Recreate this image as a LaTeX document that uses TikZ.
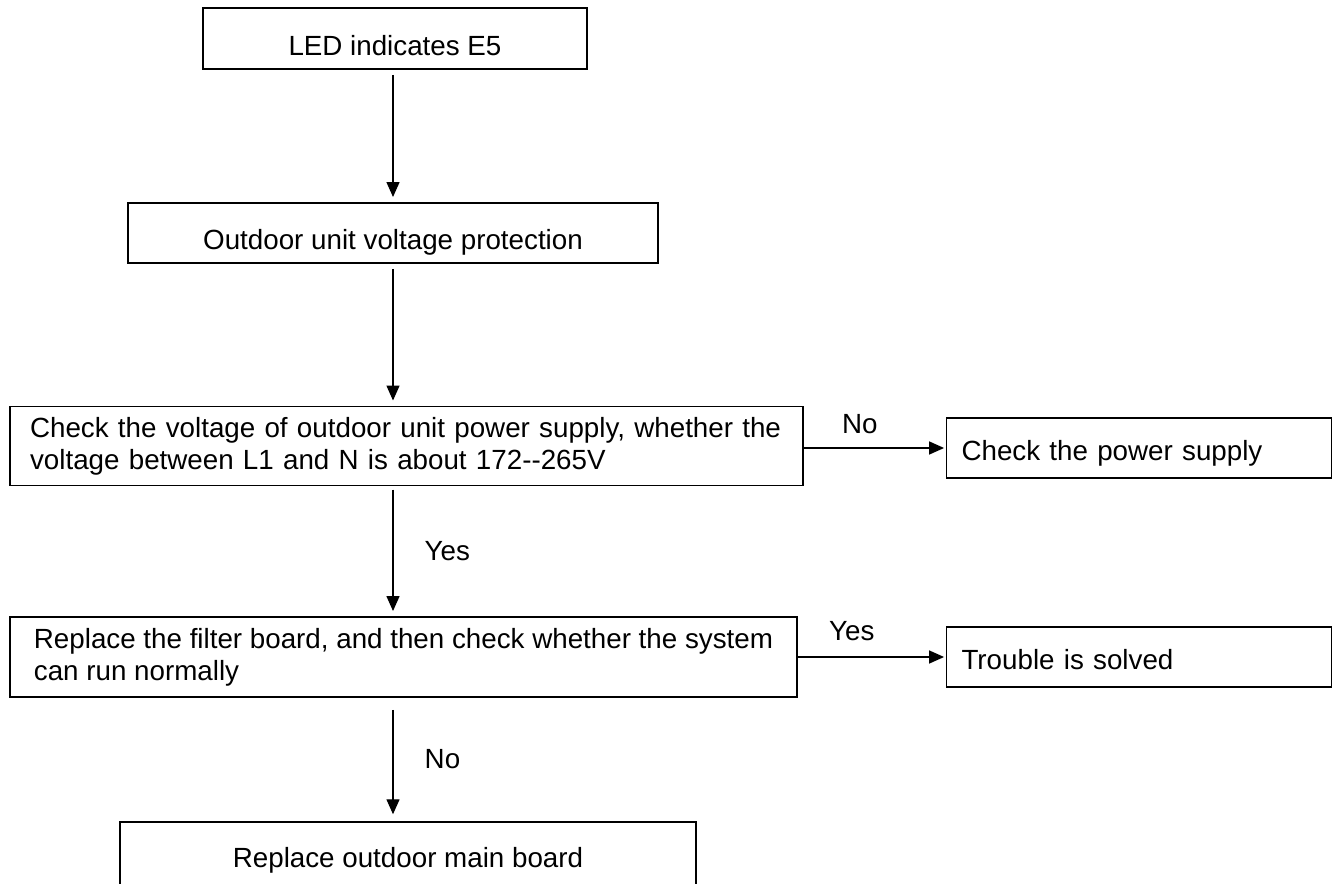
\documentclass[tikz,border=0pt]{standalone}
\usepackage{fontspec}
\setmainfont{Liberation Sans}
\usetikzlibrary{positioning,arrows.meta,calc}

\begin{document}
\begin{tikzpicture}[
    x=0.02cm, y=-0.02cm,
    >={Triangle[length=0.3cm,width=0.26cm]},
    every node/.style={font=\fontsize{15.8}{18.2}\selectfont},
    stepbox/.style={
        draw,
        line width=0.8pt,
        minimum height=#1,
        inner xsep=0.4cm,
        align=left,
    },
    oneline/.style={text height=#1,text depth=0pt},
    sidebox/.style={
        draw,
        line width=0.8pt,
        minimum height=1.2cm,
        text width=7.1cm,
        inner xsep=0.3cm,
        align=left,
        oneline=14.5pt,
    },
    flow/.style={->,line width=0.8pt},
    tag/.style={inner sep=2pt},
]

\useasboundingbox (0,0) rectangle (1334,884);

% === Main column ===
\node[stepbox=1.22cm,minimum width=7.68cm,oneline=19pt] (led) at (395,38.5) {LED indicates E5};
\node[stepbox=1.2cm,minimum width=10.6cm,oneline=19pt] (prot) at (393,233) {Outdoor unit voltage protection};
\node[stepbox=1.58cm,minimum width=15.86cm,text width=15.06cm] (volt) at (406.5,446)
    {Check the voltage of outdoor unit power supply, whether the\\
     voltage between L1 and N is about 172-{}-265V};
\node[stepbox=1.6cm,minimum width=15.74cm,inner xsep=0.32cm] (filter) at (403.5,657)
    {Replace the filter board, and then check whether the system\\
     can run normally};
\node[stepbox=1.4cm,minimum width=11.52cm,oneline=12.5pt] (mainb) at (408,857) {Replace outdoor main board};

% === Side boxes ===
\node[sidebox] (power) at (1139,448) {Check the power supply};
\node[sidebox] (solved) at (1139,657) {Trouble is solved};

% === Arrows ===
\draw[flow,shorten <=3pt,shorten >=3pt] (led.south -| 393,0) -- (prot.north -| 393,0);
\draw[flow,shorten <=3pt,shorten >=3pt] (prot.south -| 393,0) -- (volt.north -| 393,0);
\draw[flow,shorten <=2pt,shorten >=3pt] (volt.south -| 393,0) -- node[tag,right=0.55cm] {Yes} (filter.north -| 393,0);
\draw[flow,shorten <=7pt,shorten >=4pt] (filter.south -| 393,0) -- node[tag,right=0.55cm] {No} (mainb.north -| 393,0);

\draw[flow,shorten >=1pt] (volt.east |- power.west) -- node[tag,above=0.2cm,xshift=-0.3cm] {No} (power.west);
\draw[flow,shorten >=1pt] (filter.east |- solved.west) -- node[tag,above=0.25cm,xshift=-0.4cm] {Yes} (solved.west);

\end{tikzpicture}
\end{document}
